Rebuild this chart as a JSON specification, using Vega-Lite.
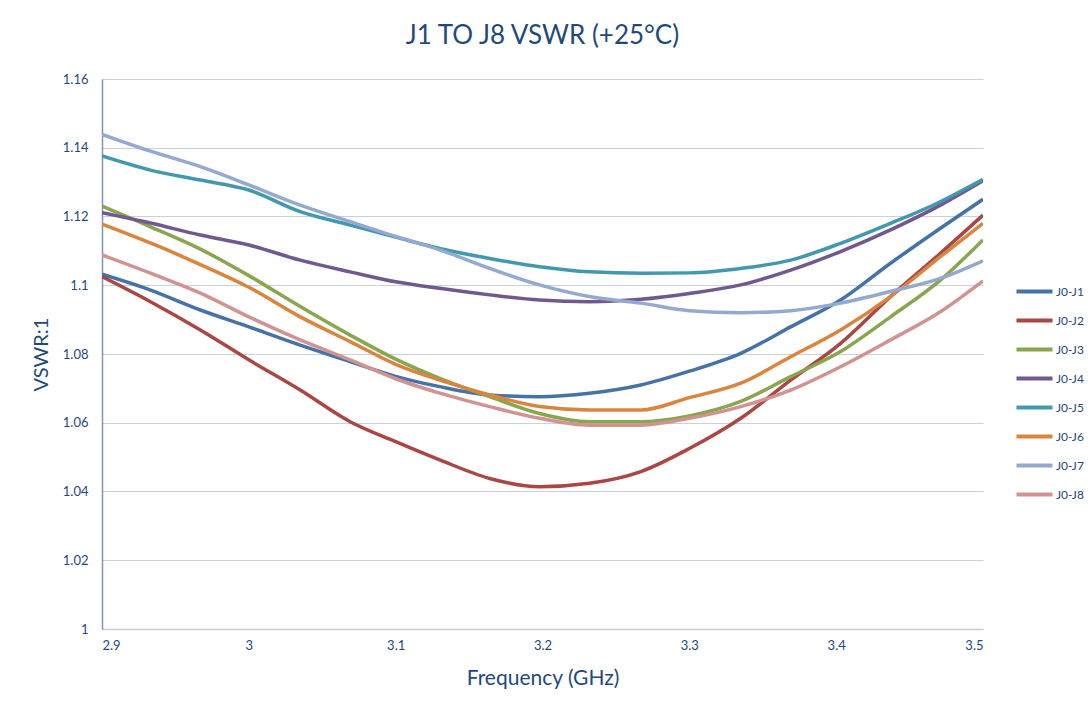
{
  "$schema": "https://vega.github.io/schema/vega-lite/v6.json",
  "autosize": {"type": "none"},
  "width": 881,
  "height": 550,
  "padding": {"left": 102, "top": 79, "right": 109, "bottom": 80},
  "background": "white",
  "title": {"text": "J1 TO J8 VSWR (+25°C)", "fontSize": 26, "font": "Lato", "fontWeight": "normal", "color": "#1F497D", "anchor": "middle", "offset": 24},
  "data": {"values": [
    {"f":2.9,"v":1.1032,"s":"J0-J1"},{"f":2.933,"v":1.0986,"s":"J0-J1"},{"f":2.967,"v":1.0928,"s":"J0-J1"},{"f":3.0,"v":1.0879,"s":"J0-J1"},{"f":3.035,"v":1.0826,"s":"J0-J1"},{"f":3.069,"v":1.0778,"s":"J0-J1"},{"f":3.1,"v":1.0735,"s":"J0-J1"},{"f":3.13,"v":1.0705,"s":"J0-J1"},{"f":3.164,"v":1.0681,"s":"J0-J1"},{"f":3.198,"v":1.0676,"s":"J0-J1"},{"f":3.232,"v":1.0686,"s":"J0-J1"},{"f":3.267,"v":1.071,"s":"J0-J1"},{"f":3.3,"v":1.075,"s":"J0-J1"},{"f":3.335,"v":1.0802,"s":"J0-J1"},{"f":3.369,"v":1.0879,"s":"J0-J1"},{"f":3.403,"v":1.0957,"s":"J0-J1"},{"f":3.437,"v":1.1064,"s":"J0-J1"},{"f":3.471,"v":1.1166,"s":"J0-J1"},{"f":3.5,"v":1.125,"s":"J0-J1"},
    {"f":2.9,"v":1.1025,"s":"J0-J2"},{"f":2.933,"v":1.0952,"s":"J0-J2"},{"f":2.967,"v":1.087,"s":"J0-J2"},{"f":3.0,"v":1.0783,"s":"J0-J2"},{"f":3.035,"v":1.0695,"s":"J0-J2"},{"f":3.069,"v":1.0603,"s":"J0-J2"},{"f":3.1,"v":1.0545,"s":"J0-J2"},{"f":3.13,"v":1.0492,"s":"J0-J2"},{"f":3.164,"v":1.0438,"s":"J0-J2"},{"f":3.198,"v":1.0414,"s":"J0-J2"},{"f":3.232,"v":1.0424,"s":"J0-J2"},{"f":3.267,"v":1.0458,"s":"J0-J2"},{"f":3.3,"v":1.0525,"s":"J0-J2"},{"f":3.335,"v":1.0613,"s":"J0-J2"},{"f":3.369,"v":1.0724,"s":"J0-J2"},{"f":3.403,"v":1.0831,"s":"J0-J2"},{"f":3.437,"v":1.0967,"s":"J0-J2"},{"f":3.471,"v":1.1093,"s":"J0-J2"},{"f":3.5,"v":1.1204,"s":"J0-J2"},
    {"f":2.9,"v":1.123,"s":"J0-J3"},{"f":2.933,"v":1.117,"s":"J0-J3"},{"f":2.967,"v":1.1105,"s":"J0-J3"},{"f":3.0,"v":1.1028,"s":"J0-J3"},{"f":3.035,"v":1.0938,"s":"J0-J3"},{"f":3.069,"v":1.0855,"s":"J0-J3"},{"f":3.1,"v":1.0785,"s":"J0-J3"},{"f":3.13,"v":1.0729,"s":"J0-J3"},{"f":3.164,"v":1.0676,"s":"J0-J3"},{"f":3.198,"v":1.0627,"s":"J0-J3"},{"f":3.232,"v":1.0603,"s":"J0-J3"},{"f":3.267,"v":1.0603,"s":"J0-J3"},{"f":3.3,"v":1.062,"s":"J0-J3"},{"f":3.335,"v":1.0662,"s":"J0-J3"},{"f":3.369,"v":1.0734,"s":"J0-J3"},{"f":3.403,"v":1.0807,"s":"J0-J3"},{"f":3.437,"v":1.0908,"s":"J0-J3"},{"f":3.471,"v":1.1015,"s":"J0-J3"},{"f":3.5,"v":1.1132,"s":"J0-J3"},
    {"f":2.9,"v":1.1211,"s":"J0-J4"},{"f":2.933,"v":1.1181,"s":"J0-J4"},{"f":2.967,"v":1.1146,"s":"J0-J4"},{"f":3.0,"v":1.1117,"s":"J0-J4"},{"f":3.035,"v":1.1073,"s":"J0-J4"},{"f":3.069,"v":1.1039,"s":"J0-J4"},{"f":3.1,"v":1.101,"s":"J0-J4"},{"f":3.13,"v":1.0991,"s":"J0-J4"},{"f":3.164,"v":1.0972,"s":"J0-J4"},{"f":3.198,"v":1.0957,"s":"J0-J4"},{"f":3.232,"v":1.0952,"s":"J0-J4"},{"f":3.267,"v":1.0959,"s":"J0-J4"},{"f":3.3,"v":1.0976,"s":"J0-J4"},{"f":3.335,"v":1.1001,"s":"J0-J4"},{"f":3.369,"v":1.1044,"s":"J0-J4"},{"f":3.403,"v":1.1098,"s":"J0-J4"},{"f":3.437,"v":1.1161,"s":"J0-J4"},{"f":3.471,"v":1.1233,"s":"J0-J4"},{"f":3.5,"v":1.1304,"s":"J0-J4"},
    {"f":2.9,"v":1.1376,"s":"J0-J5"},{"f":2.933,"v":1.1335,"s":"J0-J5"},{"f":2.967,"v":1.1306,"s":"J0-J5"},{"f":3.0,"v":1.1277,"s":"J0-J5"},{"f":3.035,"v":1.1214,"s":"J0-J5"},{"f":3.069,"v":1.1175,"s":"J0-J5"},{"f":3.1,"v":1.114,"s":"J0-J5"},{"f":3.13,"v":1.1107,"s":"J0-J5"},{"f":3.164,"v":1.1078,"s":"J0-J5"},{"f":3.198,"v":1.1054,"s":"J0-J5"},{"f":3.232,"v":1.1039,"s":"J0-J5"},{"f":3.267,"v":1.1035,"s":"J0-J5"},{"f":3.3,"v":1.1036,"s":"J0-J5"},{"f":3.335,"v":1.1049,"s":"J0-J5"},{"f":3.369,"v":1.1073,"s":"J0-J5"},{"f":3.403,"v":1.1122,"s":"J0-J5"},{"f":3.437,"v":1.118,"s":"J0-J5"},{"f":3.471,"v":1.1243,"s":"J0-J5"},{"f":3.5,"v":1.1308,"s":"J0-J5"},
    {"f":2.9,"v":1.1178,"s":"J0-J6"},{"f":2.933,"v":1.1123,"s":"J0-J6"},{"f":2.967,"v":1.106,"s":"J0-J6"},{"f":3.0,"v":1.0994,"s":"J0-J6"},{"f":3.035,"v":1.0908,"s":"J0-J6"},{"f":3.069,"v":1.0836,"s":"J0-J6"},{"f":3.1,"v":1.077,"s":"J0-J6"},{"f":3.13,"v":1.0724,"s":"J0-J6"},{"f":3.164,"v":1.0681,"s":"J0-J6"},{"f":3.198,"v":1.0647,"s":"J0-J6"},{"f":3.232,"v":1.0637,"s":"J0-J6"},{"f":3.267,"v":1.0637,"s":"J0-J6"},{"f":3.3,"v":1.0673,"s":"J0-J6"},{"f":3.335,"v":1.0715,"s":"J0-J6"},{"f":3.369,"v":1.0792,"s":"J0-J6"},{"f":3.403,"v":1.087,"s":"J0-J6"},{"f":3.437,"v":1.0967,"s":"J0-J6"},{"f":3.471,"v":1.1083,"s":"J0-J6"},{"f":3.5,"v":1.118,"s":"J0-J6"},
    {"f":2.9,"v":1.1439,"s":"J0-J7"},{"f":2.933,"v":1.139,"s":"J0-J7"},{"f":2.967,"v":1.1345,"s":"J0-J7"},{"f":3.0,"v":1.1292,"s":"J0-J7"},{"f":3.035,"v":1.1233,"s":"J0-J7"},{"f":3.069,"v":1.1185,"s":"J0-J7"},{"f":3.1,"v":1.1142,"s":"J0-J7"},{"f":3.13,"v":1.1103,"s":"J0-J7"},{"f":3.164,"v":1.1049,"s":"J0-J7"},{"f":3.198,"v":1.1001,"s":"J0-J7"},{"f":3.232,"v":1.0967,"s":"J0-J7"},{"f":3.267,"v":1.0948,"s":"J0-J7"},{"f":3.3,"v":1.0926,"s":"J0-J7"},{"f":3.335,"v":1.092,"s":"J0-J7"},{"f":3.369,"v":1.0926,"s":"J0-J7"},{"f":3.403,"v":1.0948,"s":"J0-J7"},{"f":3.437,"v":1.0982,"s":"J0-J7"},{"f":3.471,"v":1.102,"s":"J0-J7"},{"f":3.5,"v":1.1071,"s":"J0-J7"},
    {"f":2.9,"v":1.1088,"s":"J0-J8"},{"f":2.933,"v":1.1035,"s":"J0-J8"},{"f":2.967,"v":1.0977,"s":"J0-J8"},{"f":3.0,"v":1.0908,"s":"J0-J8"},{"f":3.035,"v":1.0841,"s":"J0-J8"},{"f":3.069,"v":1.0783,"s":"J0-J8"},{"f":3.1,"v":1.0728,"s":"J0-J8"},{"f":3.13,"v":1.0686,"s":"J0-J8"},{"f":3.164,"v":1.0647,"s":"J0-J8"},{"f":3.198,"v":1.0613,"s":"J0-J8"},{"f":3.232,"v":1.0593,"s":"J0-J8"},{"f":3.267,"v":1.0593,"s":"J0-J8"},{"f":3.3,"v":1.0613,"s":"J0-J8"},{"f":3.335,"v":1.0647,"s":"J0-J8"},{"f":3.369,"v":1.0695,"s":"J0-J8"},{"f":3.403,"v":1.0763,"s":"J0-J8"},{"f":3.437,"v":1.0841,"s":"J0-J8"},{"f":3.471,"v":1.0923,"s":"J0-J8"},{"f":3.5,"v":1.1013,"s":"J0-J8"}
  ]},
  "mark": {"type": "line", "strokeWidth": 3.5, "clip": true, "interpolate": "monotone"},
  "encoding": {
    "x": {"field": "f", "type": "quantitative", "title": "Frequency (GHz)",
      "scale": {"domain": [2.9, 3.5], "nice": false, "zero": false},
      "axis": {"values": [2.9, 3.0, 3.1, 3.2, 3.3, 3.4, 3.5], "format": "~g", "grid": false, "ticks": false,
        "labelPadding": 10, "titlePadding": 15, "titleFontSize": 21, "domainColor": "#C5CEDD", "domainWidth": 1.5}},
    "y": {"field": "v", "type": "quantitative", "title": "VSWR:1",
      "scale": {"domain": [1, 1.16], "nice": false, "zero": false},
      "axis": {"values": [1, 1.02, 1.04, 1.06, 1.08, 1.1, 1.12, 1.14, 1.16], "format": "~g", "ticks": false,
        "labelPadding": 14, "titlePadding": 11, "titleFontSize": 20, "domainColor": "#7C95BC", "domainWidth": 1.5,
        "grid": true, "gridColor": "#C9D1E0", "gridWidth": 1.2}},
    "color": {"field": "s", "type": "nominal", "title": null,
      "scale": {"domain": ["J0-J1","J0-J2","J0-J3","J0-J4","J0-J5","J0-J6","J0-J7","J0-J8"],
        "range": ["#4572A7","#AA4643","#89A54E","#71588F","#4198AF","#DB843D","#93A9CF","#D19392"]},
      "legend": {"orient": "none", "legendX": 912, "legendY": 192, "symbolType": "stroke", "symbolSize": 1300,
        "symbolStrokeWidth": 4, "labelFontSize": 12, "labelFont": "Lato", "labelColor": "#1F497D",
        "rowPadding": -2, "labelOffset": 1}}
  },
  "config": {
    "view": {"stroke": null},
    "axis": {"labelFont": "Lato", "labelFontSize": 13, "labelColor": "#1F497D",
      "titleFont": "Lato", "titleFontSize": 18, "titleFontWeight": "normal", "titleColor": "#1F497D"}
  }
}
